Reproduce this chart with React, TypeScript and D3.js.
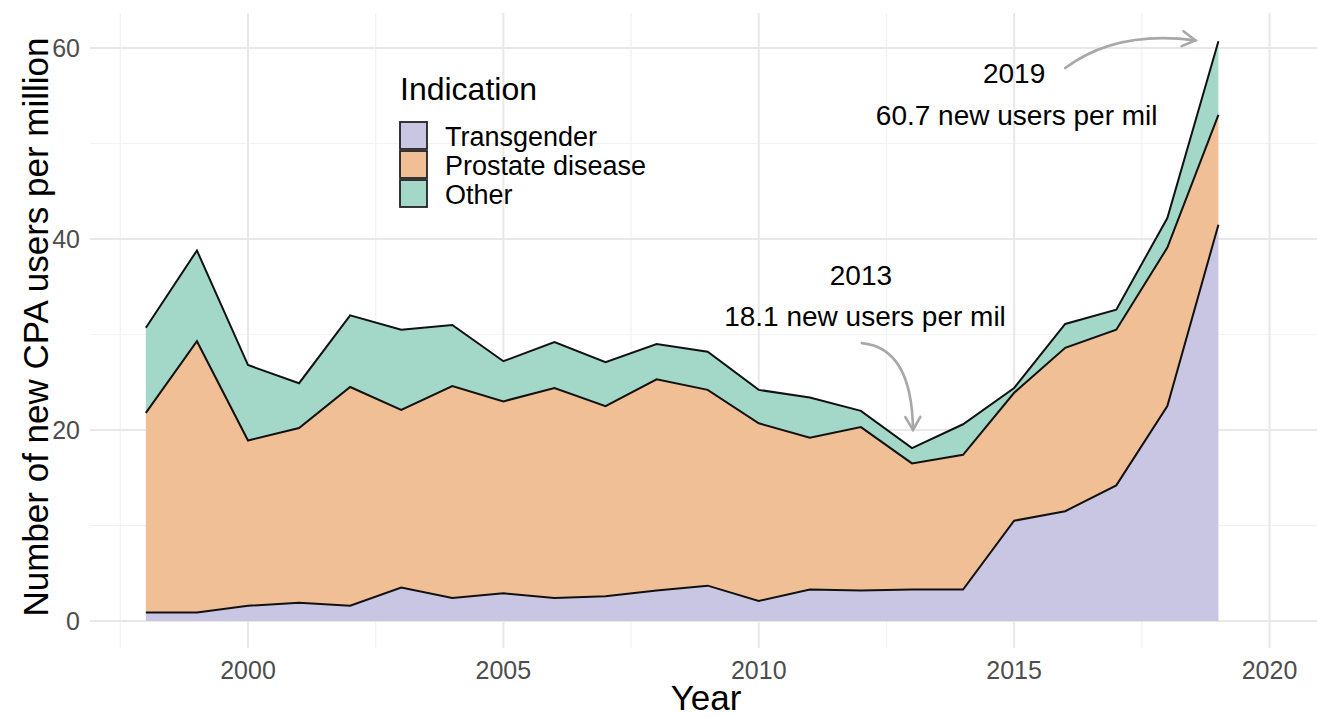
import React from "react";
import * as d3 from "d3";

const years = [1998,1999,2000,2001,2002,2003,2004,2005,2006,2007,2008,2009,2010,2011,2012,2013,2014,2015,2016,2017,2018,2019];
const transgender = [0.9,0.9,1.6,1.9,1.6,3.5,2.4,2.9,2.4,2.6,3.2,3.7,2.1,3.3,3.2,3.3,3.3,10.5,11.5,14.2,22.5,41.5];
const prostate = [20.9,28.4,17.3,18.3,22.9,18.6,22.2,20.1,22.0,19.9,22.1,20.5,18.6,15.9,17.1,13.2,14.1,13.4,17.1,16.3,16.6,11.5];
const other = [8.9,9.5,7.9,4.7,7.5,8.4,6.4,4.2,4.8,4.6,3.7,4.0,3.5,4.2,1.7,1.6,3.2,0.5,2.5,2.1,3.1,7.7];

const seriesNames = ["Transgender", "Prostate disease", "Other"];
const seriesColors = ["#c9c6e3", "#f1bf96", "#a3d7c7"];

const xTicks = [2000, 2005, 2010, 2015, 2020];
const xMinor = [1997.5, 2002.5, 2007.5, 2012.5, 2017.5];
const yTicks = [0, 20, 40, 60];
const yMinor = [10, 30, 50];

// annotations in data coordinates
const annoTexts = [
  { x: 2015.0, y: 56.3, text: "2019" },
  { x: 2015.05, y: 51.9, text: "60.7 new users per mil" },
  { x: 2012.0, y: 35.2, text: "2013" },
  { x: 2012.08, y: 30.9, text: "18.1 new users per mil" },
];
const annoArrows = [
  { x1: 2016.0, y1: 57.9, cx: 2017.0, cy: 61.9, x2: 2018.55, y2: 60.8 },
  { x1: 2012.02, y1: 29.1, cx: 2013.0, cy: 28.6, x2: 2013.02, y2: 20.0 },
];

const W = 1317, H = 717;
const panel = { left: 90, right: 1317, top: 13, bottom: 648 };
const FONT = "'Liberation Sans', Arial, sans-serif";

export default function App() {
  const x = d3.scaleLinear().domain([2000, 2020]).range([248, 1269.5]);
  const y = d3.scaleLinear().domain([0, 60]).range([621, 48]);

  const data = years.map((yr, i) => ({
    year: yr,
    Transgender: transgender[i],
    "Prostate disease": prostate[i],
    Other: other[i],
  }));
  const stacked = d3.stack<any>().keys(seriesNames)(data);

  const area = d3.area<any>()
    .x((d) => x(d.data.year))
    .y0((d) => y(d[0]))
    .y1((d) => y(d[1]));
  const line = d3.line<any>()
    .x((d) => x(d.data.year))
    .y((d) => y(d[1]));

  const arrowPath = (a: any) => {
    const p1 = [x(a.x1), y(a.y1)];
    const c = [x(a.cx), y(a.cy)];
    const p2 = [x(a.x2), y(a.y2)];
    const ang = Math.atan2(p2[1] - c[1], p2[0] - c[0]);
    const L = 15, spread = Math.PI / 6;
    const h1 = [p2[0] - L * Math.cos(ang - spread), p2[1] - L * Math.sin(ang - spread)];
    const h2 = [p2[0] - L * Math.cos(ang + spread), p2[1] - L * Math.sin(ang + spread)];
    return {
      curve: `M${p1[0]},${p1[1]} Q${c[0]},${c[1]} ${p2[0]},${p2[1]}`,
      head: `M${h1[0]},${h1[1]} L${p2[0]},${p2[1]} L${h2[0]},${h2[1]}`,
    };
  };

  const legendX = 400;
  const legendKeyY = [122, 151, 180];
  const keySize = 27;

  return (
    <svg width={W} height={H} style={{ position: "absolute", left: 0, top: 0, background: "#fff" }} fontFamily={FONT}>
      {/* grid */}
      <g>
        {yMinor.map((v) => (
          <line key={"ym" + v} x1={panel.left} x2={panel.right} y1={y(v)} y2={y(v)} stroke="#f2f2f2" strokeWidth={1.2} />
        ))}
        {xMinor.map((v) => (
          <line key={"xm" + v} y1={panel.top} y2={panel.bottom} x1={x(v)} x2={x(v)} stroke="#f2f2f2" strokeWidth={1.2} />
        ))}
        {yTicks.map((v) => (
          <line key={"yM" + v} x1={panel.left} x2={panel.right} y1={y(v)} y2={y(v)} stroke="#e8e8e8" strokeWidth={2} />
        ))}
        {xTicks.map((v) => (
          <line key={"xM" + v} y1={panel.top} y2={panel.bottom} x1={x(v)} x2={x(v)} stroke="#e8e8e8" strokeWidth={2} />
        ))}
      </g>
      {/* areas */}
      <g>
        {stacked.map((s, i) => (
          <path key={"a" + i} d={area(s) || ""} fill={seriesColors[i]} stroke="none" />
        ))}
        {stacked.map((s, i) => (
          <path key={"l" + i} d={line(s) || ""} fill="none" stroke="#111" strokeWidth={2} strokeLinejoin="miter" />
        ))}
      </g>
      {/* axes labels */}
      <g fill="#4d4d4d" fontSize={25}>
        {yTicks.map((v) => (
          <text key={"yt" + v} x={80} y={y(v)} textAnchor="end" dominantBaseline="central">{v}</text>
        ))}
        {xTicks.map((v) => (
          <text key={"xt" + v} x={x(v)} y={679} textAnchor="middle">{v}</text>
        ))}
      </g>
      <text x={706} y={710} textAnchor="middle" fontSize={35} fill="#000">Year</text>
      <text transform={`translate(48,327) rotate(-90)`} textAnchor="middle" fontSize={35} fill="#000">
        Number of new CPA users per million
      </text>
      {/* legend */}
      <g>
        <text x={legendX} y={100} fontSize={32} fill="#000">Indication</text>
        {seriesNames.map((n, i) => (
          <g key={"lg" + i}>
            <rect x={legendX} y={legendKeyY[i]} width={keySize} height={keySize} fill={seriesColors[i]} stroke="#222" strokeWidth={1.8} />
            <text x={445} y={legendKeyY[i] + 24} fontSize={27} fill="#000">{n}</text>
          </g>
        ))}
      </g>
      {/* annotations */}
      <g>
        {annoArrows.map((a, i) => {
          const p = arrowPath(a);
          return (
            <g key={"ar" + i} fill="none" stroke="#a8a8a8" strokeWidth={2.6} strokeLinecap="round">
              <path d={p.curve} />
              <path d={p.head} />
            </g>
          );
        })}
        {annoTexts.map((t, i) => (
          <text key={"at" + i} x={x(t.x)} y={y(t.y)} textAnchor="middle" fontSize={28} fill="#000">{t.text}</text>
        ))}
      </g>
    </svg>
  );
}
